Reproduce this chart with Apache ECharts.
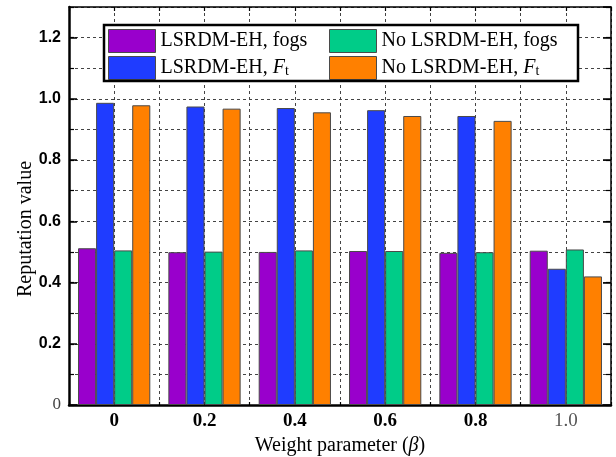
<!DOCTYPE html>
<html>
<head>
<meta charset="utf-8">
<script src="https://cdn.jsdelivr.net/npm/echarts@6/dist/echarts.min.js"></script>
<style>
  html, body { margin: 0; padding: 0; background: #fff; }
  #chart { width: 616px; height: 457px; }
</style>
</head>
<body>
<div id="chart"></div>
<script>
// Weight parameter values (x categories)
const categories = ['0', '0.2', '0.4', '0.6', '0.8', '1.0'];

// Reputation values per scheme
const lsrdmFogs   = [0.512, 0.499, 0.500, 0.503, 0.497, 0.504];
const lsrdmFt     = [0.987, 0.975, 0.970, 0.963, 0.944, 0.445];
const noLsrdmFogs = [0.505, 0.501, 0.505, 0.503, 0.499, 0.508];
const noLsrdmFt   = [0.979, 0.968, 0.956, 0.944, 0.928, 0.420];

// Series names
const seriesNames = ['LSRDM-EH, fogs', 'LSRDM-EH, Ft', 'No LSRDM-EH, fogs', 'No LSRDM-EH, Ft'];
const seriesColors = ['#9900CC', '#1F3CFF', '#00CC88', '#FF8000'];

const SERIF = '"Liberation Serif", "Times New Roman", serif';
const SANS = '"Liberation Sans", Arial, sans-serif';
const gridDash = { color: '#444', width: 1, type: [3, 3] };

const chart = echarts.init(document.getElementById('chart'), null, { renderer: 'canvas' });

function legendLabel(name) {
  if (name.endsWith(', Ft')) {
    return name.slice(0, -2) + '{i|F}{s|t}';
  }
  return name;
}
const legendText = {
  fontFamily: SERIF,
  fontSize: 20,
  color: '#000',
  rich: {
    i: { fontFamily: SERIF, fontSize: 20, fontStyle: 'italic', color: '#000' },
    s: { fontFamily: SERIF, fontSize: 14, color: '#000', verticalAlign: 'bottom' }
  }
};
const legendCommon = {
  orient: 'vertical', top: 29, padding: 0,
  itemWidth: 47, itemHeight: 23, itemGap: 3,
  icon: 'rect',
  itemStyle: { borderColor: '#4a4a4a', borderWidth: 1 },
  formatter: legendLabel, textStyle: legendText,
  selectedMode: false
};

const option = {
  animation: false,
  grid: { left: 69, right: 5, top: 7, bottom: 52, containLabel: false, outerBoundsMode: 'none' },
  legend: [
    Object.assign({ left: 108, data: [seriesNames[0], seriesNames[1]] }, legendCommon),
    Object.assign({ left: 329, data: [seriesNames[2], seriesNames[3]] }, legendCommon)
  ],
  graphic: [
    {
      type: 'rect', z: 3,
      shape: { x: 104, y: 25, width: 474, height: 56 },
      style: { fill: '#fff', stroke: null }
    },
    {
      type: 'rect', z: 100,
      shape: { x: 104, y: 25, width: 474, height: 56 },
      style: { fill: 'transparent', stroke: '#000', lineWidth: 2.5 }
    }
  ],
  xAxis: [
    {
      type: 'category', position: 'bottom', data: categories,
      axisLine: { onZero: false, lineStyle: { color: '#000', width: 2.5 } },
      axisTick: { inside: true, alignWithLabel: true, length: 7, lineStyle: { color: '#000', width: 1.5 } },
      splitLine: { show: false },
      axisLabel: {
        margin: 7,
        fontFamily: SERIF, fontWeight: 'bold', fontSize: 19, color: '#000',
        formatter: v => v === '1.0' ? '{r|1.0}' : v,
        rich: { r: { fontFamily: SERIF, fontWeight: 'normal', fontSize: 19, color: '#555' } }
      },
      name: 'Weight parameter ({b|β})',
      nameLocation: 'middle', nameGap: 30,
      nameTextStyle: {
        fontFamily: SERIF, fontSize: 20, color: '#000',
        rich: { b: { fontFamily: SERIF, fontSize: 20, fontStyle: 'italic', color: '#000' } }
      }
    },
    {
      type: 'value', position: 'bottom', min: -0.5, max: 5.5, interval: 0.5,
      axisLine: { show: false, onZero: false },
      axisTick: { show: true, inside: true, length: 3, lineStyle: { color: '#000', width: 1.2 } },
      axisLabel: { show: false },
      splitLine: { show: true, lineStyle: gridDash }
    },
    {
      type: 'category', position: 'top', data: categories,
      axisLine: { onZero: false, lineStyle: { color: '#000', width: 1.5 } },
      axisTick: { inside: true, alignWithLabel: true, length: 7, lineStyle: { color: '#000', width: 1.5 } },
      axisLabel: { show: false },
      splitLine: { show: false }
    },
    {
      type: 'value', position: 'top', min: -0.5, max: 5.5, interval: 0.5,
      axisLine: { show: false, onZero: false },
      axisTick: { show: true, inside: true, length: 4, lineStyle: { color: '#000', width: 1.2 } },
      axisLabel: { show: false },
      splitLine: { show: false }
    }
  ],
  yAxis: [
    {
      type: 'value', position: 'left', min: 0, max: 1.3, interval: 0.2,
      axisLine: { show: true, onZero: false, lineStyle: { color: '#000', width: 2.5 } },
      axisTick: { show: true, inside: true, length: 8, lineStyle: { color: '#000', width: 1.5 } },
      splitLine: { show: false },
      axisLabel: {
        margin: 8, fontFamily: SANS, fontWeight: 'bold', fontSize: 16, color: '#000',
        showMaxLabel: false,
        formatter: v => v === 0 ? '{z|0}' : v.toFixed(1),
        rich: { z: { fontFamily: SERIF, fontWeight: 'normal', fontSize: 17, color: '#444' } }
      },
      name: 'Reputation value',
      nameLocation: 'middle', nameGap: 33, nameRotate: 90, nameMoveOverlap: false,
      nameTextStyle: { fontFamily: SERIF, fontSize: 20, color: '#000', padding: [0, 46, 0, 0] }
    },
    {
      type: 'value', position: 'left', min: 0, max: 1.3, interval: 0.1,
      axisLine: { show: false, onZero: false },
      axisTick: { show: true, inside: true, length: 5, lineStyle: { color: '#000', width: 1.2 } },
      axisLabel: { show: false },
      splitLine: { show: true, lineStyle: gridDash }
    },
    {
      type: 'value', position: 'right', min: 0, max: 1.3, interval: 0.2,
      axisLine: { show: true, onZero: false, lineStyle: { color: '#000', width: 1.5 } },
      axisTick: { show: true, inside: true, length: 8, lineStyle: { color: '#000', width: 1.5 } },
      axisLabel: { show: false },
      splitLine: { show: false }
    },
    {
      type: 'value', position: 'right', min: 0, max: 1.3, interval: 0.1,
      axisLine: { show: false, onZero: false },
      axisTick: { show: true, inside: true, length: 5, lineStyle: { color: '#000', width: 1.2 } },
      axisLabel: { show: false },
      splitLine: { show: false }
    }
  ],
  series: [lsrdmFogs, lsrdmFt, noLsrdmFogs, noLsrdmFt].map((values, i) => ({
    name: seriesNames[i],
    type: 'bar',
    xAxisIndex: 0,
    yAxisIndex: 0,
    data: values,
    barGap: '0%',
    barCategoryGap: '20%',
    itemStyle: { color: seriesColors[i], borderColor: '#4a4a4a', borderWidth: 1 },
    z: 3
  }))
};

chart.setOption(option);
</script>
</body>
</html>
